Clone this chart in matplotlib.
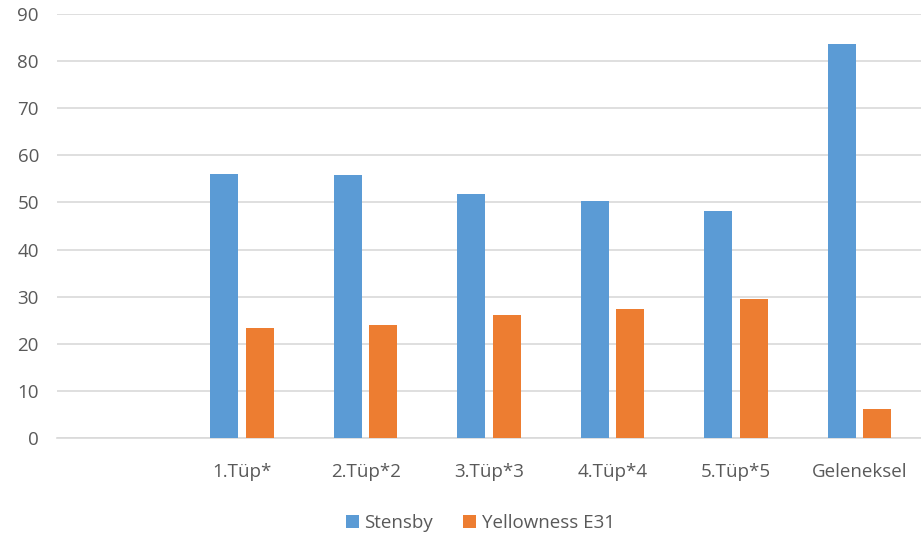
import matplotlib.pyplot as plt
import numpy as np

categories = ['', '1.Tüp*', '2.Tüp*2', '3.Tüp*3', '4.Tüp*4', '5.Tüp*5', 'Geleneksel']
stensby = [np.nan, 56.0, 55.8, 51.7, 50.3, 48.2, 83.7]
yellowness = [np.nan, 23.3, 24.0, 26.2, 27.4, 29.5, 6.2]

plt.rcParams['font.family'] = ['Open Sans', 'DejaVu Sans']

fig = plt.figure(figsize=(9.21, 5.37), dpi=100)
ax = fig.add_axes([57 / 921, 99 / 537, 864 / 921, 424 / 537])

x = np.arange(len(categories))
w = 0.227
off = 0.144
ax.bar(x - off, stensby, w, color='#5B9BD5', label='Stensby', zorder=3)
ax.bar(x + off, yellowness, w, color='#ED7D31', label='Yellowness E31', zorder=3)

ax.set_xlim(-0.5, len(categories) - 0.5)
ax.set_ylim(0, 90)
ax.set_yticks(np.arange(0, 91, 10))
ax.set_xticks(x)
ax.set_xticklabels(categories)
ax.grid(axis='y', color='#d9d9d9', linewidth=1.2, zorder=0)
for s in ['top', 'right', 'left']:
    ax.spines[s].set_visible(False)
ax.spines['bottom'].set_color('#d9d9d9')
ax.spines['bottom'].set_linewidth(1.2)
ax.tick_params(axis='both', length=0, labelsize=13.5, colors='#595959')
ax.tick_params(axis='x', pad=18)
ax.tick_params(axis='y', pad=13)

ax.legend(loc='center', bbox_to_anchor=(0.49, -0.2), ncol=2, frameon=False,
          fontsize=13.5, labelcolor='#595959', handlelength=0.7, handleheight=0.7,
          handletextpad=0.3, columnspacing=1.6)

fig.savefig('out.png', dpi=100, facecolor='white')
